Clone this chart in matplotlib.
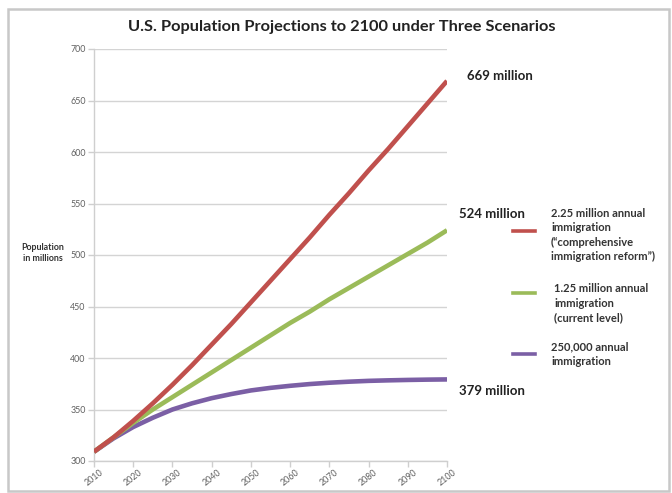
import matplotlib
matplotlib.use("Agg")
import matplotlib.pyplot as plt
from matplotlib.lines import Line2D
from matplotlib.patches import Rectangle

years = [2010, 2015, 2020, 2025, 2030, 2035, 2040, 2045, 2050, 2055,
         2060, 2065, 2070, 2075, 2080, 2085, 2090, 2095, 2100]
high_immig = [309, 323, 339, 356, 374, 393, 413, 433, 454, 475,
              496, 517, 539, 560, 582, 603, 625, 647, 669]
current_immig = [309, 323, 337, 350, 362, 374, 386, 398, 410, 422,
                 434, 445, 457, 468, 479, 490, 501, 512, 524]
low_immig = [309, 322, 333, 342, 350, 356, 361, 365, 368.5, 371,
             373, 374.7, 376, 377, 377.8, 378.3, 378.7, 379, 379.2]

series_labels = [
    "2.25 million annual\nimmigration\n(\u201ccomprehensive\nimmigration reform\u201d)",
    "1.25 million annual\nimmigration\n(current level)",
    "250,000 annual\nimmigration",
]
end_labels = ["669 million", "524 million", "379 million"]
x_ticks = list(range(2010, 2101, 10))
y_ticks = list(range(300, 701, 50))

colors = ["#C0504D", "#9BBB59", "#7B5FA5"]
FONT = ["Lato", "DejaVu Sans"]
plt.rcParams["font.family"] = FONT

W, H = 672, 493
fig = plt.figure(figsize=(W / 100, H / 100), dpi=100)
fig.patch.set_facecolor("white")

# outer frame
fig.add_artist(Rectangle((8 / W, 1 - 491 / H), (669 - 8) / W, (491 - 9) / H,
                         transform=fig.transFigure, fill=False,
                         edgecolor="#C8C8C8", linewidth=1.8))

ax = fig.add_axes([94 / W, 1 - 461 / H, (447 - 94) / W, 412 / H])
line_kw = dict(linewidth=3.3, solid_capstyle="butt", solid_joinstyle="round")
ax.plot(years, low_immig, color=colors[2], zorder=3, **line_kw)
ax.plot(years, current_immig, color=colors[1], zorder=4, **line_kw)
ax.plot(years, high_immig, color=colors[0], zorder=5, **line_kw)

ax.set_xlim(2010, 2100)
ax.set_ylim(300, 700)
ax.set_xticks(x_ticks)
ax.set_yticks(y_ticks)
ax.set_xticklabels([str(t) for t in x_ticks], rotation=38, fontsize=6.4,
                   color="#606060", ha="center")
ax.set_yticklabels([str(t) for t in y_ticks], fontsize=6.4, color="#606060")
ax.yaxis.grid(True, color="#D4D4D4", linewidth=1.0)
ax.set_axisbelow(True)
for sp in ["top", "right"]:
    ax.spines[sp].set_visible(False)
for sp in ["left", "bottom"]:
    ax.spines[sp].set_color("#CFCFCF")
    ax.spines[sp].set_linewidth(1.0)
ax.tick_params(axis="both", colors="#CFCFCF", length=4, width=1.0, pad=2,
               labelcolor="#606060")
ax.tick_params(axis="x", pad=1)

fig.text(342 / W, 1 - 27 / H, "U.S. Population Projections to 2100 under Three Scenarios",
         ha="center", va="center", fontsize=11.8, fontweight="bold", color="#222222")
fig.text(43 / W, 1 - 253 / H, "Population\nin millions", ha="center", va="center",
         fontsize=6.4, fontweight="bold", color="#333333", linespacing=1.3)

# end value labels
for lbl, (x, y) in zip(end_labels, [(467, 76), (459, 214), (459, 391)]):
    fig.text(x / W, 1 - y / H, lbl, ha="left", va="center", fontsize=9.5,
             fontweight="bold", color="#222222")

# manual legend
leg_pos = [(231, 214.3, 551), (293, 290, 554), (354, 348.3, 551)]
for lbl, c, (ly, ty, tx) in zip(series_labels, colors, leg_pos):
    fig.add_artist(Line2D([513 / W, 535 / W], [1 - ly / H, 1 - ly / H],
                          transform=fig.transFigure, color=c, linewidth=2.6))
    fig.text(tx / W, 1 - (ty - 6.5) / H, lbl, ha="left", va="top", fontsize=8.0,
             fontweight="bold", color="#333333", linespacing=1.38)

fig.savefig("out.png", dpi=100)
